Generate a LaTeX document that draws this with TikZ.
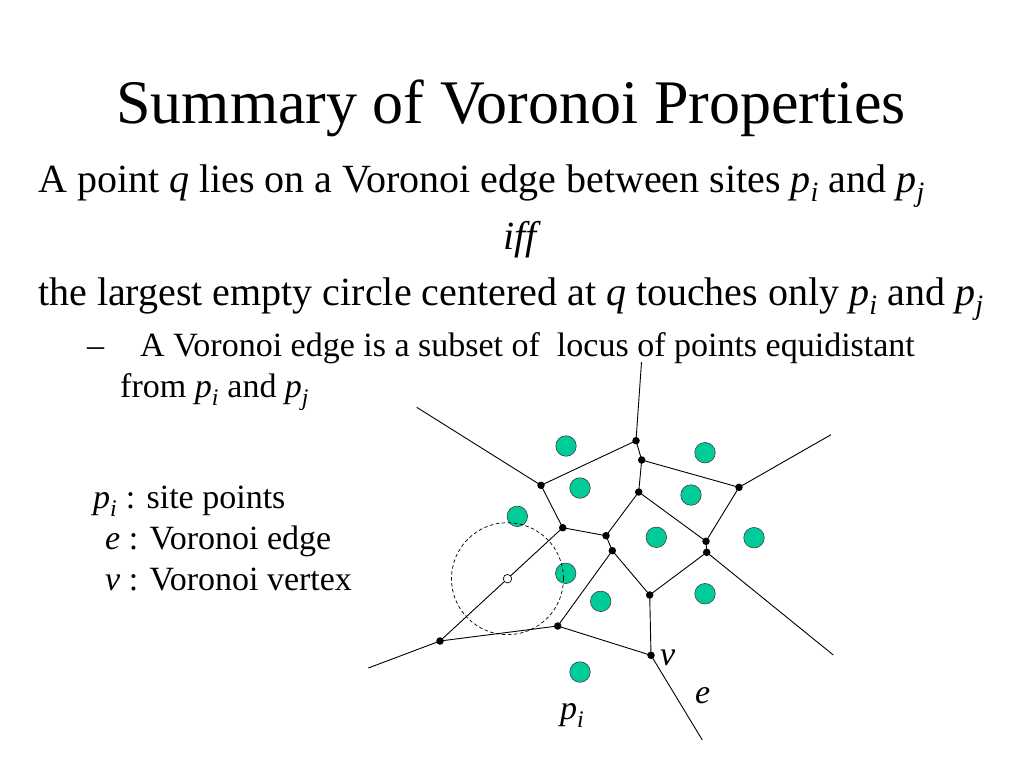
\documentclass[tikz,border=0pt]{standalone}
\usepackage{fontspec}
\setmainfont{Liberation Serif}
\usepackage{amsmath}
\usetikzlibrary{calc}
\newcommand\pp[1]{$\textit{p}_{\textit{#1}}$}
\definecolor{sitegreen}{RGB}{0,204,153}
\begin{document}
\begin{tikzpicture}[x=1pt,y=-1pt,
  edge/.style={line width=0.9pt},
  vtx/.style={circle,fill=black,inner sep=0pt,minimum size=7.5pt},
  sitept/.style={circle,fill=sitegreen,draw=black!75,line width=0.6pt,inner sep=0pt,minimum size=20.5pt},
  emptycirc/.style={line width=0.7pt,dash pattern=on 3.5pt off 2.5pt},
  txt/.style={anchor=base west,inner sep=0pt},
  ttl/.style={font=\fontsize{62}{70}\selectfont},
  body/.style={font=\fontsize{40}{46}\selectfont},
  small/.style={font=\fontsize{34}{40}\selectfont}]
\useasboundingbox (0,0) rectangle (1024,768);
\fill[white] (0,0) rectangle (1024,768);

% texts
\node[ttl,anchor=base,inner sep=0pt] (title) at (511,123) {Summary of Voronoi Properties};
\node[body,txt] (l1) at (38,192) {A point \textit{q} lies on a Voronoi edge between sites \pp{i} and \pp{j}};
\node[body,anchor=base,inner sep=0pt] (iff) at (522,249) {\textit{iff}};
\node[body,txt] (l3) at (38,305) {the largest empty circle centered at \textit{q} touches only \pp{i} and \pp{j}};
\node[small,txt] (dash) at (87,356) {--};
\node[small,txt] (l4) at (140,356) {A Voronoi edge is a subset of\ \ locus of points equidistant};
\node[small,txt] (l5) at (120,397) {from \pp{i} and \pp{j}};
\node[small,txt] (k1) at (93,508) {\pp{i} : site points};
\node[small,txt] (k2) at (105,549) {\textit{e} : Voronoi edge};
\node[small,txt] (k3) at (105,590) {\textit{v} : Voronoi vertex};

% Voronoi vertices
\coordinate (V1) at (636,440.7);
\coordinate (V2) at (641.7,460);
\coordinate (V3) at (541,485.3);
\coordinate (V4) at (739,487.3);
\coordinate (V5) at (638.7,492);
\coordinate (V6) at (562.7,527.7);
\coordinate (V7) at (606,535.7);
\coordinate (V8) at (706,541.3);
\coordinate (V9) at (612.3,550.7);
\coordinate (V10) at (706.7,552.3);
\coordinate (V11) at (649.7,595);
\coordinate (V12) at (557.7,626);
\coordinate (V13) at (440,641);
\coordinate (V14) at (651,655.3);
% ray ends
\coordinate (R1) at (641.5,362);
\coordinate (R2) at (416.7,407.3);
\coordinate (R3) at (831,434.7);
\coordinate (R4) at (833.3,655);
\coordinate (R5) at (368.3,668);
\coordinate (R6) at (702.3,740);

\draw[edge] (R1) -- (V1) -- (V2) -- (V5) -- (V7) -- (V9) -- (V11) -- (V14) -- (R6);
\draw[edge] (R2) -- (V3) -- (V1);
\draw[edge] (V2) -- (V4) -- (R3);
\draw[edge] (V4) -- (V8) -- (V10) -- (R4);
\draw[edge] (V5) -- (V8);
\draw[edge] (V3) -- (V6) -- (V7);
\draw[edge] (V6) -- (V13) -- (R5);
\draw[edge] (V13) -- (V12) -- (V14);
\draw[edge] (V9) -- (V12);
\draw[edge] (V10) -- (V11);

% sites
\node[sitept] (S1) at (566,446) {};
\node[sitept] (S2) at (705,452.7) {};
\node[sitept] (S3) at (580,488) {};
\node[sitept] (S4) at (691,495) {};
\node[sitept] (S5) at (517.3,516.3) {};
\node[sitept] (S6) at (656.3,537.3) {};
\node[sitept] (S7) at (754,537.7) {};
\node[sitept] (S8) at (565.7,573.3) {};
\node[sitept] (S9) at (600.7,601.3) {};
\node[sitept] (S10) at (705,593.7) {};
\node[sitept] (S11) at (580,672) {};

% empty circle
\coordinate (q) at ($(V6)!0.45!(V13)$);
\draw[emptycirc] (q) circle[radius=56];

\foreach \v in {V1,V2,V3,V4,V5,V6,V7,V8,V9,V10,V11,V12,V13,V14}
  \node[vtx] at (\v) {};
\node[circle,draw=black,fill=white,line width=0.7pt,inner sep=0pt,minimum size=8.5pt] (qn) at (q) {};

% labels
\node[small,txt] (lv) at (660,665) {\textit{v}};
\node[small,txt] (le) at (695,703) {\textit{e}};
\node[small,txt] (lp) at (560,719) {\pp{i}};
\end{tikzpicture}
\end{document}
